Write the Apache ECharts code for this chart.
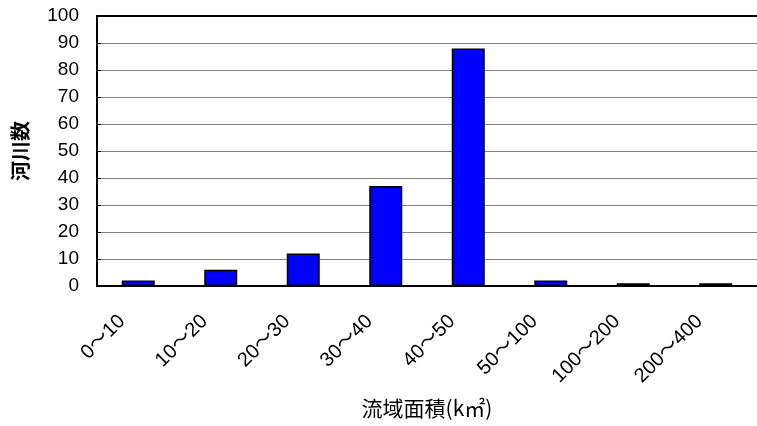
<!DOCTYPE html>
<html>
<head>
<meta charset="utf-8">
<script src="https://cdn.jsdelivr.net/npm/echarts@6/dist/echarts.min.js"></script>
<style>html,body{margin:0;padding:0;background:#fff;}#c{width:757px;height:426px;}</style>
</head>
<body>
<div id="c"></div>
<script>
const categories = ['0～10', '10～20', '20～30', '30～40', '40～50', '50～100', '100～200', '200～400'];
const riverCounts = [2, 6, 12, 37, 88, 2, 1, 1];
const yTicks = { min: 0, max: 100, interval: 10 };

const chart = echarts.init(document.getElementById('c'), null, { renderer: 'canvas' });
const FONT = '"Liberation Sans", "Noto Sans CJK JP", sans-serif';
chart.setOption({
  animation: false,
  backgroundColor: '#fff',
  grid: { left: 97, top: 16, width: 663, height: 270 },
  xAxis: [{
    type: 'category',
    data: categories,
    name: '流域面積(k㎡)',
    nameLocation: 'middle',
    nameGap: 112,
    nameTextStyle: { fontFamily: '"Noto Sans CJK JP", sans-serif', fontSize: 21, color: '#000' },
    axisLine: { lineStyle: { color: '#000', width: 2 } },
    axisTick: { inside: true, length: 5, lineStyle: { color: '#000', width: 1 } },
    axisLabel: { rotate: 45, margin: 16, padding: [0, 23, 0, 0], fontFamily: FONT, fontSize: 20, color: '#000', interval: 0 }
  }, {
    type: 'category',
    data: categories,
    position: 'top',
    axisLine: { show: true, lineStyle: { color: '#000', width: 2 } },
    axisTick: { show: false },
    axisLabel: { show: false }
  }],
  yAxis: {
    type: 'value',
    min: yTicks.min, max: yTicks.max, interval: yTicks.interval,
    name: '河川数',
    nameLocation: 'middle',
    nameRotate: 90,
    nameGap: 67,
    nameTextStyle: { fontFamily: '"Noto Sans CJK JP", sans-serif', fontSize: 20, fontWeight: 'bold', color: '#000' },
    axisLine: { show: true, lineStyle: { color: '#000', width: 2 } },
    axisTick: { show: true, inside: true, length: 4, lineStyle: { color: '#000' } },
    axisLabel: { margin: 18, fontFamily: FONT, fontSize: 19, color: '#000' },
    splitLine: { show: true, lineStyle: { color: '#808080', width: 1 } }
  },
  series: [{
    type: 'bar',
    data: riverCounts,
    barWidth: 33,
    itemStyle: { color: '#0000FF', borderColor: '#000', borderWidth: 1.5 }
  }]
});
</script>
</body>
</html>
